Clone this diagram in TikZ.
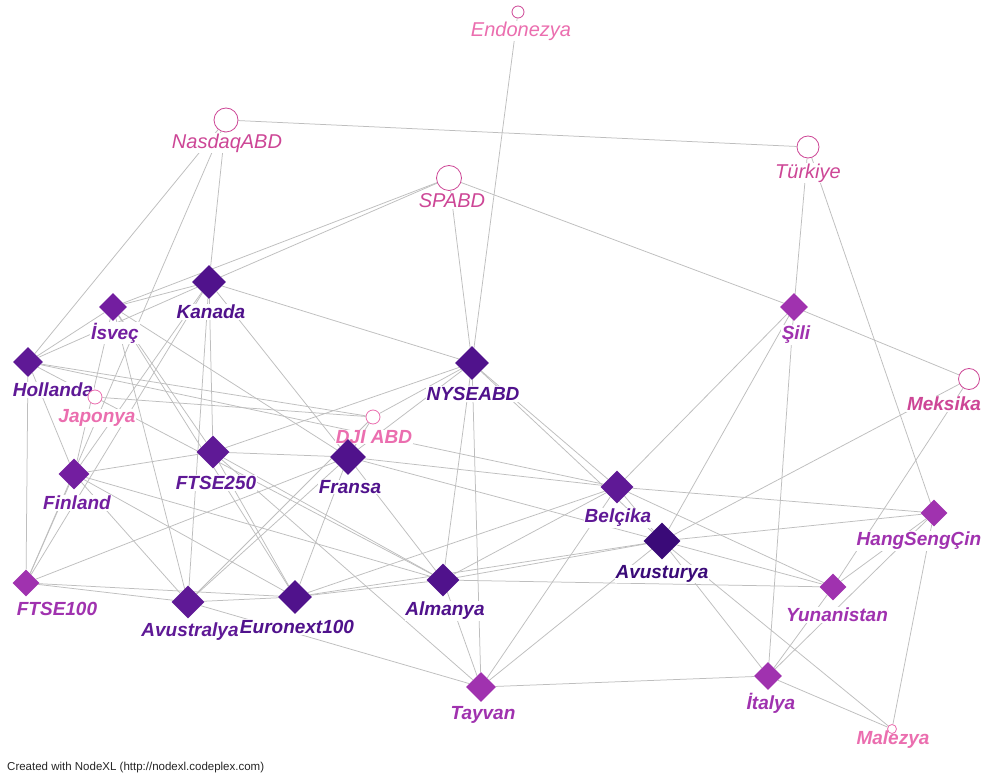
\documentclass[tikz,border=0pt]{standalone}
\usepackage{fontspec}
\setmainfont{Liberation Sans}
\usetikzlibrary{shapes.geometric}
\pgfdeclarelayer{back}
\pgfdeclarelayer{bg}
\pgfdeclarelayer{labs}
\pgfsetlayers{back,bg,labs,main}
\definecolor{cA}{RGB}{58,10,120}
\definecolor{cB}{RGB}{80,18,140}
\definecolor{cC}{RGB}{95,25,150}
\definecolor{cD}{RGB}{115,30,160}
\definecolor{cE}{RGB}{160,50,175}
\definecolor{pk}{RGB}{205,70,150}
\definecolor{pkl}{RGB}{235,110,175}
\definecolor{edge}{RGB}{190,190,190}
\tikzset{
  dia/.style={diamond, aspect=1, inner sep=0pt, minimum size=#1},
  circ/.style={circle, draw=pk, fill=white, line width=0.8pt, inner sep=0pt, minimum size=#1},
  lab/.style={font=\fontsize{19}{21}\selectfont\bfseries\itshape, inner sep=0.8pt, fill=white},
  labl/.style={font=\fontsize{20}{22}\selectfont\itshape, inner sep=0.8pt, fill=white},
  conn/.style={draw=edge, line width=0.75pt},
}
\begin{document}
\begin{tikzpicture}[x=1pt,y=-1pt]
\begin{pgfonlayer}{back}
\fill[white] (0,0) rectangle (983,783);
\end{pgfonlayer}
\useasboundingbox (0,0) rectangle (983,783);
% nodes
\node[circ=12pt] (E) at (518,12) {};
\node[circ=24pt] (N) at (226,120) {};
\node[circ=25pt] (S) at (449,178) {};
\node[circ=22pt] (T) at (808,147) {};
\node[dia=34pt, fill=cB] (K) at (209,282) {};
\node[dia=28pt, fill=cD] (I) at (113,307) {};
\node[dia=30pt, fill=cC] (H) at (28,362) {};
\node[circ=14pt, draw=pkl] (J) at (95,397) {};
\node[circ=14pt, draw=pkl] (D) at (373,417) {};
\node[dia=34pt, fill=cB] (NY) at (472,363) {};
\node[dia=28pt, fill=cE] (Sl) at (794,307) {};
\node[circ=21pt] (M) at (969,379) {};
\node[dia=33pt, fill=cC] (F2) at (213,452) {};
\node[dia=36pt, fill=cB] (Fr) at (348,457) {};
\node[dia=31pt, fill=cD] (Fi) at (74,474) {};
\node[dia=33pt, fill=cC] (B) at (617,487) {};
\node[dia=37pt, fill=cA] (A) at (662,541) {};
\node[dia=27pt, fill=cE] (HS) at (934,513) {};
\node[dia=27pt, fill=cE] (F1) at (26,583) {};
\node[dia=33pt, fill=cC] (Av) at (188,602) {};
\node[dia=34pt, fill=cB] (Eu) at (295,597) {};
\node[dia=33pt, fill=cB] (Al) at (443,580) {};
\node[dia=27pt, fill=cE] (Y) at (833,587) {};
\node[dia=30pt, fill=cE] (Ty) at (481,687) {};
\node[dia=28pt, fill=cE] (It) at (768,676) {};
\node[circ=9pt, draw=pkl] (Ml) at (892,729) {};
% labels
\begin{pgfonlayer}{labs}
\node[labl, text=pkl] (lE) at (521,31) {Endonezya};
\node[labl, text=pk] (lN) at (227,143) {NasdaqABD};
\node[labl, text=pk] (lS) at (452,201) {SPABD};
\node[labl, text=pk] (lT) at (808,173) {Türkiye};
\node[lab, text=cB] (lK) at (211,312) {Kanada};
\node[lab, text=cD] (lI) at (115,333) {İsveç};
\node[lab, text=cC] (lH) at (53,390) {Hollanda};
\node[lab, text=pkl] (lJ) at (97,418) {Japonya};
\node[lab, text=pkl] (lD) at (374,437) {DJI ABD};
\node[lab, text=cB] (lNY) at (473,394) {NYSEABD};
\node[lab, text=cE] (lSl) at (796,335) {Şili};
\node[lab, text=pk] (lM) at (944,404) {Meksika};
\node[lab, text=cC] (lF2) at (216,483) {FTSE250};
\node[lab, text=cB] (lFr) at (350,487) {Fransa};
\node[lab, text=cD] (lFi) at (77,503) {Finland};
\node[lab, text=cC] (lB) at (618,518) {Belçika};
\node[lab, text=cA] (lA) at (662,574) {Avusturya};
\node[lab, text=cE] (lHS) at (919,541) {HangSengÇin};
\node[lab, text=cE] (lF1) at (57,609) {FTSE100};
\node[lab, text=cC] (lAv) at (190,632) {Avustralya};
\node[lab, text=cB] (lEu) at (297,627) {Euronext100};
\node[lab, text=cB] (lAl) at (445,611) {Almanya};
\node[lab, text=cE] (lY) at (837,615) {Yunanistan};
\node[lab, text=cE] (lTy) at (483,715) {Tayvan};
\node[lab, text=cE] (lIt) at (771,703) {İtalya};
\end{pgfonlayer}
\node[lab, text=pkl, fill=none] (lMl) at (893,740) {Malezya};
\node[anchor=west, inner sep=0pt, font=\fontsize{11.5}{13}\selectfont, text=black!85] (foot) at (7,768) {Created with NodeXL (http://nodexl.codeplex.com)};
% edges
\begin{pgfonlayer}{bg}
\foreach \a/\b in {E/NY, N/T, N/H, N/K, N/F1, S/K, S/I, S/NY, S/Sl, T/Sl, T/HS,
  Sl/M, Sl/B, Sl/A, Sl/It, M/A, M/Y, HS/Y, HS/It, HS/Ml, B/HS, A/HS,
  K/I, H/I, H/K, K/NY, K/F2, K/Av, K/Fr, K/Fi, K/F1,
  I/Fi, I/Av, I/F2, I/Eu, I/Fr, H/F1, H/Fi, H/B, H/D, H/Al, J/D,
  F2/Fi, F2/Fr, F2/NY, F2/Eu, F2/Al, F2/Ty,
  Fr/D, Fr/NY, Fr/B, Fr/A, Fr/Al, Fr/Eu, Fr/Av, F1/Fr, D/NY, D/Av,
  Fi/F1, Fi/Eu, Fi/Av, Fi/Al, F1/Av, F1/Eu, Av/Eu, Av/Ty,
  Eu/Al, Eu/B, Eu/A, NY/Al, NY/Ty, NY/B, NY/A,
  Al/B, Al/A, Al/Y, Al/Ty, B/Ty, A/Ty, Ty/It, B/Y, A/Y, B/A,
  A/It, A/Ml, It/Ml, Y/It}
  \draw[conn] (\a) -- (\b);
\end{pgfonlayer}
\end{tikzpicture}
\end{document}
